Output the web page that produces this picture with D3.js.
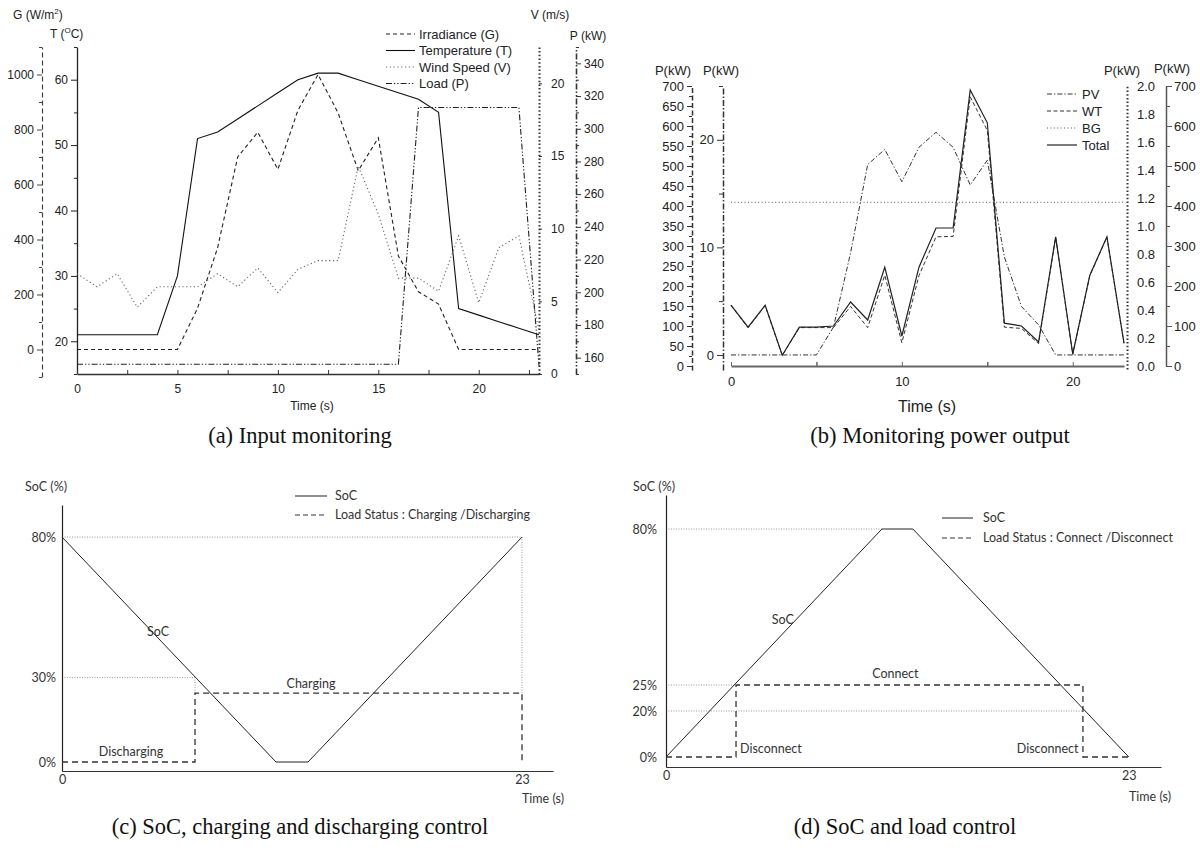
<!DOCTYPE html>
<html><head><meta charset="utf-8">
<script src="https://cdn.jsdelivr.net/npm/d3@7"></script>
<style>body{margin:0;background:#fff} svg{display:block}</style>
</head><body>
<svg id="chart" width="1200" height="850"></svg>
<script>
// ================= DATA =================
// ---- (a) Input monitoring ----
const timeA = [0,1,2,3,4,5,6,7,8,9,10,11,12,13,14,15,16,17,18,19,20,21,22,23];
const irradianceG = [0,0,0,0,0,0,150,370,700,790,655,870,1000,860,650,770,340,210,165,0,0,0,0,0];
const temperatureT = [21,21,21,21,21,30,51,52,54,56,58,60,61,61,60,59,58,57,55,25,24,23,22,21];
const windSpeedV = [6.9,6.0,6.9,4.6,6.0,6.0,6.0,6.9,6.0,7.3,5.6,7.2,7.8,7.8,14.3,11.0,6.6,6.6,5.7,9.5,4.9,8.7,9.5,3.0];
const loadP = [156,156,156,156,156,156,156,156,156,156,156,156,156,156,156,156,156,313,313,313,313,313,313,155];
const gTicks = [0,200,400,600,800,1000];
const gMinor = [-100,100,300,500,700,900,1100];
const tTicks = [20,30,40,50,60];
const tMinor = [15,25,35,45,55,65];
const vTicks = [0,5,10,15,20];
const pTicks = [160,180,200,220,240,260,280,300,320,340];
const pMinor = [150,170,190,210,230,250,270,290,310,330,350];
const timeTicksA = [0,5,10,15,20];
const timeMinorA = [2.5,7.5,12.5,17.5,22.5];
const legendA = ["Irradiance (G)","Temperature (T)","Wind Speed (V)","Load (P)"];

// ---- (b) Monitoring power output ----
const timeB = [0,1,2,3,4,5,6,7,8,9,10,11,12,13,14,15,16,17,18,19,20,21,22,23];
const pvPower = [0,0,0,0,0,0,2.6,9.5,17.7,19.1,16.1,19.3,20.7,19.3,15.8,18.1,9.1,4.5,2.8,0,0,0,0,0];
const wtPower = [151,96,151,26,96,96,96,149,96,227,58,226,323,324,673,589,97,94,56,322,29,226,322,56];
const bgPower = [1.17,1.17,1.17,1.17,1.17,1.17,1.17,1.17,1.17,1.17,1.17,1.17,1.17,1.17,1.17,1.17,1.17,1.17,1.17,1.17,1.17,1.17,1.17,1.17];
const totalPower = [152,97,152,27,97,97,100,160,115,247,75,247,345,345,690,608,107,100,60,323,30,227,323,57];
const wtTicks = [0,50,100,150,200,250,300,350,400,450,500,550,600,650,700];
const wtMinor = [25,75,125,175,225,275,325,375,425,475,525,575,625,675];
const pvTicks = [0,10,20];
const pvMinor = [5,15,25];
const bgTicks = [0,0.2,0.4,0.6,0.8,1.0,1.2,1.4,1.6,1.8,2.0];
const totTicks = [0,100,200,300,400,500,600,700];
const totMinor = [50,150,250,350,450,550,650];
const timeTicksB = [0,10,20];
const timeMinorB = [5,15];
const legendB = ["PV","WT","BG","Total"];

// ---- (c) SoC, charging and discharging control ----
const socTimeC = [0,10.7,12.3,23];
const socC = [80,0,0,80];
const loadTimeC = [0,6.65,6.65,23,23];
const loadStatusC = [0,0,24.5,24.5,0];
const socTicksC = [0,30,80];
const timeTicksC = [0,23];

// ---- (d) SoC and load control ----
const socTimeD = [0,10.73,12.27,23];
const socD = [0,80,80,0];
const loadTimeD = [0,3.48,3.48,20.72,20.72,23];
const loadStatusD = [0,0,25,25,0,0];
const socTicksD = [0,20,25,80];
const timeTicksD = [0,23];

// ================= DRAWING =================
const svg = d3.select("#chart");
svg.append("rect").attr("width",1200).attr("height",850).attr("fill","#fff");
const sans = "'Liberation Sans', Arial, Helvetica, sans-serif";
const cal = "Lato, 'Open Sans', sans-serif";
const serif = "'Liberation Serif', 'DejaVu Serif', serif";
const calSize = 12.5;

function styleAxis(g, o) {
  g.attr("font-family", o.font || sans).attr("font-size", o.size || 12);
  const dom = g.select(".domain");
  if (o.noDomain) dom.remove();
  else dom.attr("stroke", o.color || "#222").attr("stroke-width", o.width || 1).attr("stroke-dasharray", o.dash || null);
  g.selectAll(".tick line").attr("stroke", o.tickColor || o.color || "#222").attr("stroke-width", o.tickWidth || 1);
  g.selectAll(".tick text").attr("fill", o.textColor || "#222");
  return g;
}
function addAxis(parent, tx, ty, gen, o) {
  const g = parent.append("g").attr("transform", `translate(${tx},${ty})`).call(gen);
  return styleAxis(g, o);
}
function addLine(parent, xs, ys, xs_, ys_, st) {
  return parent.append("path")
    .datum(xs.map((x, i) => [x, ys[i]]))
    .attr("d", d3.line().x(d => xs_(d[0])).y(d => ys_(d[1])))
    .attr("fill", "none").attr("stroke", st.color).attr("stroke-width", st.width)
    .attr("stroke-dasharray", st.dash || null).attr("stroke-linejoin", "miter");
}
function txt(parent, x, y, s, o) {
  return parent.append("text").attr("x", x).attr("y", y).attr("dy", "0.35em")
    .attr("font-family", o.font || sans).attr("font-size", o.size || 12)
    .attr("fill", o.color || "#222").attr("text-anchor", o.anchor || "start").text(s);
}

// ---------- Panel (a) ----------
{
  const g = svg.append("g");
  const top = 47, bot = 374;
  const xA = d3.scaleLinear().domain([0,23]).range([77,539]);
  const yG = d3.scaleLinear().domain([-100,1100]).range([bot+3, top]);
  const yT = d3.scaleLinear().domain([15,65]).range([bot, top]);
  const yV = d3.scaleLinear().domain([0,22.5]).range([bot, top]);
  const yP = d3.scaleLinear().domain([150,350]).range([bot, top]);

  const stG = {color:"#222", width:1.1, dash:"4,3"};
  const stT = {color:"#111", width:1.1};
  const stV = {color:"#666", width:1.1, dash:"1.2,2.6"};
  const stP = {color:"#222", width:1.1, dash:"6,2,1.3,2,1.3,2"};

  addAxis(g, 42, 0, d3.axisLeft(yG).tickValues(gTicks).tickSize(5).tickSizeOuter(0).tickPadding(3).tickFormat(d3.format("d")), {dash:"5,3", color:"#444", width:1.2, size:12});
  addAxis(g, 42, 0, d3.axisLeft(yG).tickValues(gMinor).tickSize(3).tickFormat(""), {noDomain:true, color:"#444"});
  addAxis(g, 77, 0, d3.axisLeft(yT).tickValues(tTicks).tickSize(6).tickSizeOuter(0).tickPadding(3), {color:"#222", width:1.3, size:12});
  addAxis(g, 77, 0, d3.axisLeft(yT).tickValues(tMinor).tickSize(3).tickFormat(""), {noDomain:true, color:"#222"});
  addAxis(g, 539, 0, d3.axisRight(yV).tickValues(vTicks).tickSize(3).tickSizeOuter(0).tickPadding(9), {dash:"1.5,2.2", color:"#333", width:2, size:12});
  addAxis(g, 576, 0, d3.axisRight(yP).tickValues(pTicks).tickSize(5).tickSizeOuter(0).tickPadding(3), {dash:"6,2,1.5,2,1.5,2", color:"#333", width:1.6, size:12});
  addAxis(g, 576, 0, d3.axisRight(yP).tickValues(pMinor).tickSize(3).tickFormat(""), {noDomain:true, color:"#333"});
  addAxis(g, 0, bot, d3.axisBottom(xA).tickValues(timeTicksA).tickSize(-4).tickSizeOuter(0).tickPadding(10), {color:"#333", width:1.5, size:12});
  addAxis(g, 0, bot, d3.axisBottom(xA).tickValues(timeMinorA).tickSize(-4).tickFormat(""), {noDomain:true, color:"#333"});

  addLine(g, timeA, irradianceG, xA, yG, stG);
  addLine(g, timeA, temperatureT, xA, yT, stT);
  addLine(g, timeA, windSpeedV, xA, yV, stV);
  addLine(g, timeA, loadP, xA, yP, stP);

  const tg = g.append("text").attr("x", 13).attr("y", 19).attr("font-family", sans).attr("font-size", 12).attr("fill","#222");
  tg.append("tspan").text("G (W/m");
  tg.append("tspan").attr("font-size", 8).attr("dy", -5).text("2");
  tg.append("tspan").attr("dy", 5).text(")");
  const tt = g.append("text").attr("x", 50).attr("y", 38).attr("font-family", sans).attr("font-size", 12).attr("fill","#222");
  tt.append("tspan").text("T (");
  tt.append("tspan").attr("font-size", 8).attr("dy", -5).text("O");
  tt.append("tspan").attr("dy", 5).text("C)");
  txt(g, 550, 15, "V (m/s)", {anchor:"middle", size:12});
  txt(g, 588, 36, "P (kW)", {anchor:"middle", size:12});
  txt(g, 312, 406, "Time (s)", {anchor:"middle", size:12});

  const sts = [stG, stT, stV, stP];
  legendA.forEach((s, i) => {
    const y = 34 + i * 16.5;
    g.append("line").attr("x1", 386).attr("x2", 415).attr("y1", y).attr("y2", y)
      .attr("stroke", sts[i].color).attr("stroke-width", sts[i].width).attr("stroke-dasharray", sts[i].dash || null);
    txt(g, 419, y, s, {size:13});
  });
  txt(svg, 300, 435, "(a) Input monitoring", {anchor:"middle", size:22.5, font:serif, color:"#111"});
}

// ---------- Panel (b) ----------
{
  const g = svg.append("g");
  const xB = d3.scaleLinear().domain([0,23]).range([731,1124]);
  const yWT = d3.scaleLinear().domain([-10,700]).range([370,86]);
  const yPV = d3.scaleLinear().domain([-1.4,25]).range([370,86]);
  const yBG = d3.scaleLinear().domain([-0.02,2]).range([369,86]);
  const yTot = d3.scaleLinear().domain([0,700]).range([366,86]);

  const stPV = {color:"#333", width:1, dash:"5,2,1.3,2"};
  const stWT = {color:"#333", width:1, dash:"4,2.5"};
  const stBG = {color:"#555", width:1, dash:"1,2.4"};
  const stTot = {color:"#222", width:1.2};

  addAxis(g, 692, 0, d3.axisLeft(yWT).tickValues(wtTicks).tickSize(5).tickSizeOuter(0).tickPadding(3), {dash:"5,2.5", color:"#333", width:1.5, size:13});
  addAxis(g, 692, 0, d3.axisLeft(yWT).tickValues(wtMinor).tickSize(3).tickFormat(""), {noDomain:true, color:"#333"});
  addAxis(g, 723, 0, d3.axisLeft(yPV).tickValues(pvTicks).tickSize(6).tickSizeOuter(0).tickPadding(3), {dash:"6,2,1.5,2", color:"#333", width:1.5, size:13});
  addAxis(g, 723, 0, d3.axisLeft(yPV).tickValues(pvMinor).tickSize(4).tickFormat(""), {noDomain:true, color:"#333"});
  addAxis(g, 1127, 0, d3.axisRight(yBG).tickValues(bgTicks).tickSize(0).tickSizeOuter(0).tickPadding(10).tickFormat(d3.format(".1f")), {dash:"1.5,2.2", color:"#333", width:2, size:13});
  addAxis(g, 1166, 0, d3.axisRight(yTot).tickValues(totTicks).tickSize(6).tickSizeOuter(0).tickPadding(2), {color:"#555", width:1.5, size:13});
  addAxis(g, 1166, 0, d3.axisRight(yTot).tickValues(totMinor).tickSize(4).tickFormat(""), {noDomain:true, color:"#555"});
  addAxis(g, 0, 366, d3.axisBottom(xB).tickValues(timeTicksB).tickSize(-4).tickSizeOuter(0).tickPadding(11), {color:"#666", width:2, size:13});
  addAxis(g, 0, 366, d3.axisBottom(xB).tickValues(timeMinorB).tickSize(-4).tickFormat(""), {noDomain:true, color:"#666", tickWidth:1.5});

  addLine(g, timeB, bgPower, xB, yBG, stBG);
  addLine(g, timeB, pvPower, xB, yPV, stPV);
  addLine(g, timeB, wtPower, xB, yWT, stWT);
  addLine(g, timeB, totalPower, xB, yTot, stTot);

  txt(g, 673, 70, "P(kW)", {anchor:"middle", size:13});
  txt(g, 721, 70, "P(kW)", {anchor:"middle", size:13});
  txt(g, 1122, 70, "P(kW)", {anchor:"middle", size:13});
  txt(g, 1172, 68, "P(kW)", {anchor:"middle", size:13});
  txt(g, 927, 406, "Time (s)", {anchor:"middle", size:16});

  const sts = [stPV, stWT, stBG, stTot];
  legendB.forEach((s, i) => {
    const y = 94 + i * 17;
    g.append("line").attr("x1", 1047).attr("x2", 1077).attr("y1", y).attr("y2", y)
      .attr("stroke", sts[i].color).attr("stroke-width", sts[i].width).attr("stroke-dasharray", sts[i].dash || null);
    txt(g, 1082, y, s, {size:13});
  });
  txt(svg, 940, 435, "(b) Monitoring power output", {anchor:"middle", size:22.5, font:serif, color:"#111"});
}

// ---------- Panel (c) ----------
{
  const g = svg.append("g");
  const xC = d3.scaleLinear().domain([0,24.55]).range([62,553]);
  const yC = d3.scaleLinear().domain([-3.2,91.4]).range([771,505]);
  const dotted = {color:"#999", width:1, dash:"1,1.5"};
  addLine(g, [0,23,23], [80,80,24.5], xC, yC, dotted);
  addLine(g, [0,6.65,6.65], [30,30,24.5], xC, yC, dotted);
  addAxis(g, 62, 0, d3.axisLeft(yC).tickValues(socTicksC).tickSize(0).tickSizeOuter(0).tickPadding(6).tickFormat(d => d + "%"), {color:"#222", width:1.2, size:calSize, font:cal, textColor:"#333"});
  addAxis(g, 0, 771, d3.axisBottom(xC).tickValues(timeTicksC).tickSize(0).tickSizeOuter(0).tickPadding(4), {color:"#333", width:1.2, size:calSize, font:cal, textColor:"#333"});
  addLine(g, loadTimeC, loadStatusC, xC, yC, {color:"#333", width:1.3, dash:"6,4"});
  addLine(g, socTimeC, socC, xC, yC, {color:"#222", width:1});

  txt(g, 46, 487, "SoC (%)", {anchor:"middle", size:calSize, font:cal, color:"#333"});
  txt(g, 543, 799, "Time (s)", {anchor:"middle", size:calSize, font:cal, color:"#333"});
  txt(g, xC(4.8), yC(46.5), "SoC", {anchor:"middle", size:calSize, font:cal, color:"#333"});
  txt(g, xC(12.45), yC(28), "Charging", {anchor:"middle", size:calSize, font:cal, color:"#333"});
  txt(g, xC(3.45), yC(3.6), "Discharging", {anchor:"middle", size:calSize, font:cal, color:"#333"});
  g.append("line").attr("x1",295).attr("x2",327).attr("y1",496).attr("y2",496).attr("stroke","#222");
  txt(g, 335, 496, "SoC", {size:calSize, font:cal, color:"#333"});
  g.append("line").attr("x1",295).attr("x2",327).attr("y1",515).attr("y2",515).attr("stroke","#333").attr("stroke-width",1.2).attr("stroke-dasharray","5,3");
  txt(g, 335, 515, "Load Status : Charging /Discharging", {size:calSize, font:cal, color:"#333"});
  txt(svg, 300, 826, "(c) SoC, charging and discharging control", {anchor:"middle", size:22.5, font:serif, color:"#111"});
}

// ---------- Panel (d) ----------
{
  const g = svg.append("g");
  const xD = d3.scaleLinear().domain([0,24.6]).range([666,1161]);
  const yD = d3.scaleLinear().domain([-4,0,20,25,80,92]).range([767,757,711,685,529,495]);
  const dotted = {color:"#999", width:1, dash:"1,1.5"};
  addLine(g, [0,10.73], [80,80], xD, yD, dotted);
  addLine(g, [0,3.48], [25,25], xD, yD, dotted);
  addLine(g, [0,20.72], [20,20], xD, yD, dotted);
  addAxis(g, 666, 0, d3.axisLeft(yD).tickValues(socTicksD).tickSize(0).tickSizeOuter(0).tickPadding(9).tickFormat(d => d + "%"), {color:"#222", width:1.2, size:calSize, font:cal, textColor:"#333"});
  addAxis(g, 0, 767, d3.axisBottom(xD).tickValues(timeTicksD).tickSize(0).tickSizeOuter(0).tickPadding(4), {color:"#333", width:1.2, size:calSize, font:cal, textColor:"#333"});
  addLine(g, loadTimeD, loadStatusD, xD, yD, {color:"#333", width:1.3, dash:"6,4"});
  addLine(g, socTimeD, socD, xD, yD, {color:"#222", width:1});

  txt(g, 654, 487, "SoC (%)", {anchor:"middle", size:calSize, font:cal, color:"#333"});
  txt(g, 1150, 797, "Time (s)", {anchor:"middle", size:calSize, font:cal, color:"#333"});
  txt(g, xD(5.8), yD(48), "SoC", {anchor:"middle", size:calSize, font:cal, color:"#333"});
  txt(g, xD(11.4), yD(29), "Connect", {anchor:"middle", size:calSize, font:cal, color:"#333"});
  txt(g, xD(3.68), yD(3.5), "Disconnect", {size:calSize, font:cal, color:"#333"});
  txt(g, xD(20.5), yD(3.5), "Disconnect", {anchor:"end", size:calSize, font:cal, color:"#333"});
  g.append("line").attr("x1",942).attr("x2",973).attr("y1",518).attr("y2",518).attr("stroke","#222");
  txt(g, 983, 518, "SoC", {size:calSize, font:cal, color:"#333"});
  g.append("line").attr("x1",942).attr("x2",973).attr("y1",538).attr("y2",538).attr("stroke","#333").attr("stroke-width",1.2).attr("stroke-dasharray","5,3");
  txt(g, 983, 538, "Load Status : Connect /Disconnect", {size:calSize, font:cal, color:"#333"});
  txt(svg, 905, 826, "(d) SoC and load control", {anchor:"middle", size:22.5, font:serif, color:"#111"});
}
</script>
</body></html>
